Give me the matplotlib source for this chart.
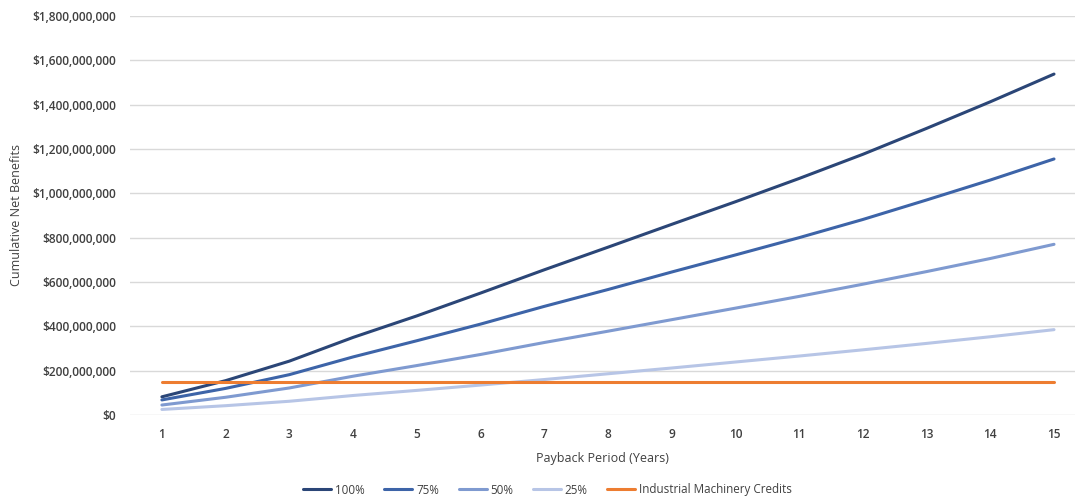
import matplotlib
matplotlib.use("Agg")
import matplotlib.pyplot as plt
from matplotlib.ticker import FuncFormatter

plt.rcParams['font.family'] = ['Open Sans', 'DejaVu Sans']

years = list(range(1, 16))
benefits_100 = [82, 155, 243, 350, 447, 550, 655, 757, 860, 962, 1067, 1176, 1293, 1413, 1538]
benefits_75 = [68, 120, 182, 262, 335, 410, 490, 566, 645, 722, 800, 882, 970, 1060, 1155]
benefits_50 = [45, 80, 122, 175, 223, 273, 327, 378, 430, 482, 535, 590, 647, 706, 770]
benefits_25 = [25, 42, 62, 88, 111, 135, 160, 186, 212, 239, 266, 294, 323, 353, 385]
machinery_credits = [147] * 15  # $ millions

series = [
    ("100%", benefits_100, "#2B4677"),
    ("75%", benefits_75, "#3D64A8"),
    ("50%", benefits_50, "#7F9AD0"),
    ("25%", benefits_25, "#B7C5E6"),
    ("Industrial Machinery Credits", machinery_credits, "#ED7D31"),
]

fig = plt.figure(figsize=(10.8, 5.0), dpi=100)
ax = fig.add_axes([0.1204, 0.17, 0.875, 0.798])

for label, vals, color in series:
    ax.plot(years, [v * 1e6 for v in vals], color=color, lw=2.2,
            label=label, solid_capstyle='round')

ax.set_xlim(0.5, 15.33)
ax.set_ylim(0, 1.8e9)
ax.set_xticks(years)
ax.set_yticks([i * 2e8 for i in range(10)])
ax.yaxis.set_major_formatter(FuncFormatter(lambda v, p: "${:,.0f}".format(v)))
ax.grid(axis='y', color='#D9D9D9', lw=1)
ax.set_axisbelow(True)
for s in ax.spines.values():
    s.set_visible(False)
ax.tick_params(length=0, labelsize=8.6, colors='#404040')
ax.tick_params(axis='x', pad=9)
ax.tick_params(axis='y', pad=10)
for t in ax.get_xticklabels() + ax.get_yticklabels():
    t.set_fontweight('semibold')

ax.set_xlabel("Payback Period (Years)", fontsize=9, color='#404040', labelpad=8)
ax.set_ylabel("Cumulative Net Benefits", fontsize=9, color='#404040', labelpad=7)

leg = fig.legend(loc='center', bbox_to_anchor=(0.507, 0.02), ncol=5, frameon=False,
                 fontsize=8.4, handlelength=2.4, columnspacing=1.7, handletextpad=0.3)
for t in leg.get_texts():
    t.set_color('#404040')

fig.savefig("out.png", dpi=100, facecolor='white')
